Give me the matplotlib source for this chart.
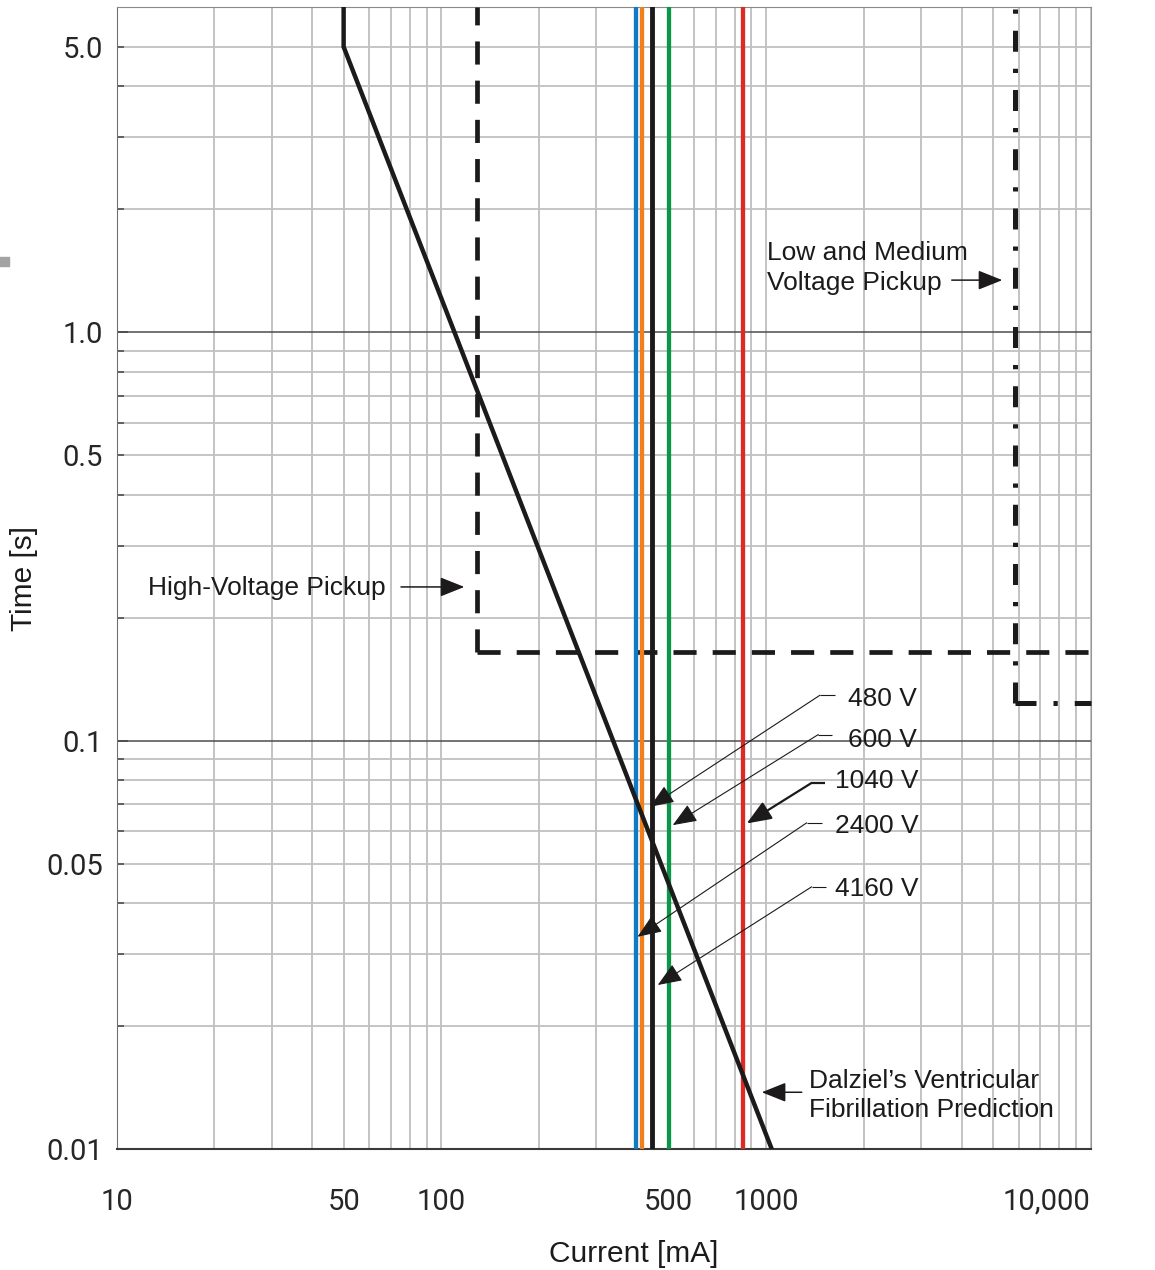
import numpy as np
import matplotlib
matplotlib.use('Agg')
import matplotlib.pyplot as plt
from matplotlib.ticker import LogLocator, NullFormatter
from matplotlib.patches import Rectangle

# Dalziel's ventricular fibrillation prediction (current mA, time s)
dalziel_current = [50, 50, 1041]
dalziel_time = [6.25, 5.0, 0.01]

# body current at the different system voltages (vertical lines)
line_currents = [397, 416, 445, 504, 852]
line_colors = ['#1379c3', '#ef801c', '#1c1a1a', '#0b9748', '#de2a25']
line_widths = [3.1, 3.1, 3.5, 3.1, 3.1]

# relay pickups: current where the vertical part sits, time of the knee
hv_pickup_current = 129
hv_pickup_time = 0.165
lv_pickup_current = 5850
lv_pickup_time = 0.1235

# voltage callouts: text, text anchor, leader knee, arrow tip
voltage_labels = ['480 V', '600 V', '1040 V', '2400 V', '4160 V']
label_x = [1792, 1792, 1631, 1631, 1631]
label_y = [0.1217, 0.09625, 0.07638, 0.05945, 0.04162]
leader_end_x = [1631, 1600, 1519, 1484, 1530]
knee_x = [1466, 1449, 1382, 1334, 1382]
knee_y = [0.1292, 0.1035, 0.07881, 0.06291, 0.04386]
tip_x = [439, 516, 872, 402, 464]
tip_y = [0.06885, 0.0621, 0.06269, 0.03309, 0.02521]
leader_lw = [0.8, 0.8, 1.6, 0.8, 0.8]

xtick_vals = [10, 50, 100, 500, 1000, 10000]
xtick_labels = ['10', '50', '100', '500', '1000', '10,000']
ytick_major = [0.01, 0.1, 1.0]
ytick_major_labels = ['0.01', '0.1', '1.0']
five_labels = {-2: '0.05', -1: '0.5', 0: '5.0'}

INK = '#1c1a1a'
TEXT_FONT = ['Liberation Sans', 'DejaVu Sans']
TICK_FONT = ['Roboto', 'DejaVu Sans']

fig = plt.figure(figsize=(11.55, 12.7), dpi=100)
ax = fig.add_axes([0.10104, 0.09528, 0.84329, 0.89898])
ax.set_xscale('log')
ax.set_yscale('log')
ax.set_xlim(10, 10000)
ax.set_ylim(0.01, 6.25)

# ticks
ax.set_xticks(xtick_vals, labels=xtick_labels)
ax.xaxis.set_minor_locator(LogLocator(base=10, subs=np.arange(2, 10)))
ax.xaxis.set_minor_formatter(NullFormatter())
ax.set_yticks(ytick_major, labels=ytick_major_labels)
ymin_vals, ymin_labels = [], []
for e in (-2, -1, 0):
    for m in range(2, 10):
        v = m * 10.0 ** e
        if v < 6:
            ymin_vals.append(v)
            ymin_labels.append(five_labels[e] if m == 5 else '')
ax.set_yticks(ymin_vals, labels=ymin_labels, minor=True)

ax.tick_params(axis='x', which='both', length=0, pad=28, labelsize=21, labelcolor='#262626')
ax.tick_params(axis='y', which='both', direction='in', color='#444444', width=1.1,
               labelsize=21, pad=10, labelcolor='#262626')
ax.tick_params(axis='y', which='major', length=8)
ax.tick_params(axis='y', which='minor', length=5)
for lab in ax.get_xticklabels() + ax.get_yticklabels() + ax.get_yticklabels(minor=True):
    lab.set_fontfamily(TICK_FONT)
ax.get_xticklabels()[-1].set_ha('right')
ax.get_xticklabels()[-1].set_x(10000)

# grid
ax.set_axisbelow(True)
ax.grid(True, which='major', axis='y', color='#4d4d4d', lw=1.1)
ax.grid(True, which='minor', axis='y', color='#c0c0c2', lw=1.3)
ax.grid(True, which='both', axis='x', color='#b9b9bd', lw=1.2)

ax.spines['left'].set_color('#707070')
ax.spines['bottom'].set_color('#3a3a3a')
ax.spines['bottom'].set_linewidth(1.5)
ax.spines['top'].set_color('#8a8a8a')
ax.spines['right'].set_color('#9a9a9a')

top = ax.get_ylim()[1]
right = ax.get_xlim()[1]

# high-voltage pickup (dashed), drawn from the knee so the corner is solid
hv_dash = (4.9, 3.4)
ax.plot([hv_pickup_current, hv_pickup_current], [hv_pickup_time, top],
        color=INK, lw=3.4, dashes=hv_dash, zorder=3)
ax.plot([hv_pickup_current, right], [hv_pickup_time, hv_pickup_time],
        color=INK, lw=3.4, dashes=hv_dash, zorder=3)

# low and medium voltage pickup (dash-dot)
lv_dash = (4.2, 3.4, 0.85, 3.4)
ax.plot([lv_pickup_current, lv_pickup_current], [lv_pickup_time, top],
        color=INK, lw=3.6, dashes=lv_dash, zorder=3)
ax.plot([lv_pickup_current, right], [lv_pickup_time, lv_pickup_time],
        color=INK, lw=3.6, dashes=lv_dash, zorder=3, clip_on=False)

# body current lines
for cur, col, w in zip(line_currents, line_colors, line_widths):
    ax.axvline(cur, color=col, lw=w, zorder=4)

# Dalziel curve
ax.plot(dalziel_current, dalziel_time, color=INK, lw=3.2, zorder=5,
        solid_joinstyle='miter')

arrow_kw = dict(arrowstyle='-|>,head_length=0.75,head_width=0.3', color=INK,
                shrinkA=0, shrinkB=0, mutation_scale=20)

# voltage callouts
for i, txt in enumerate(voltage_labels):
    ax.plot([leader_end_x[i], knee_x[i]], [knee_y[i], knee_y[i]], color=INK,
            lw=leader_lw[i], zorder=6, solid_capstyle='butt')
    ax.annotate('', xy=(tip_x[i], tip_y[i]), xytext=(knee_x[i], knee_y[i]),
                arrowprops=dict(arrow_kw, lw=leader_lw[i]), zorder=6)
    ax.text(label_x[i], label_y[i], txt, fontsize=19, family=TEXT_FONT,
            color=INK, ha='left', va='baseline', zorder=6)

# pickup and Dalziel callouts (va='baseline' sits on the last line)
ax.text(12.5, 0.2271, 'High-Voltage Pickup', fontsize=19, family=TEXT_FONT,
        color=INK, ha='left', va='baseline')
ax.annotate('', xy=(117.7, 0.2379), xytext=(75.1, 0.2379),
            arrowprops=dict(arrow_kw, lw=1.1))

ax.text(1005, 1.272, 'Low and Medium\nVoltage Pickup', fontsize=19,
        family=TEXT_FONT, color=INK, ha='left', va='baseline', linespacing=1.3)
ax.annotate('', xy=(5343, 1.342), xytext=(3733, 1.342),
            arrowprops=dict(arrow_kw, lw=1.1))

ax.text(1359, 0.01196, 'Dalziel\u2019s Ventricular\nFibrillation Prediction',
        fontsize=19, family=TEXT_FONT, color=INK, ha='left', va='baseline',
        linespacing=1.3)
ax.annotate('', xy=(970, 0.01377), xytext=(1288, 0.01377),
            arrowprops=dict(arrow_kw, lw=1.1))

# axis labels
ax.set_xlabel('Current [mA]', fontsize=21.5, family=TEXT_FONT, color=INK)
ax.set_ylabel('Time [s]', fontsize=21.5, family=TEXT_FONT, color=INK)
ax.xaxis.set_label_coords(0.531, -0.0797)
ax.yaxis.set_label_coords(-0.0803, 0.5)

# small grey mark at the left page edge
fig.patches.append(Rectangle((0, 0.7906), 9 / 1155, 9 / 1270,
                             transform=fig.transFigure, color='#a3a3a3'))

fig.savefig('out.png', dpi=100)
